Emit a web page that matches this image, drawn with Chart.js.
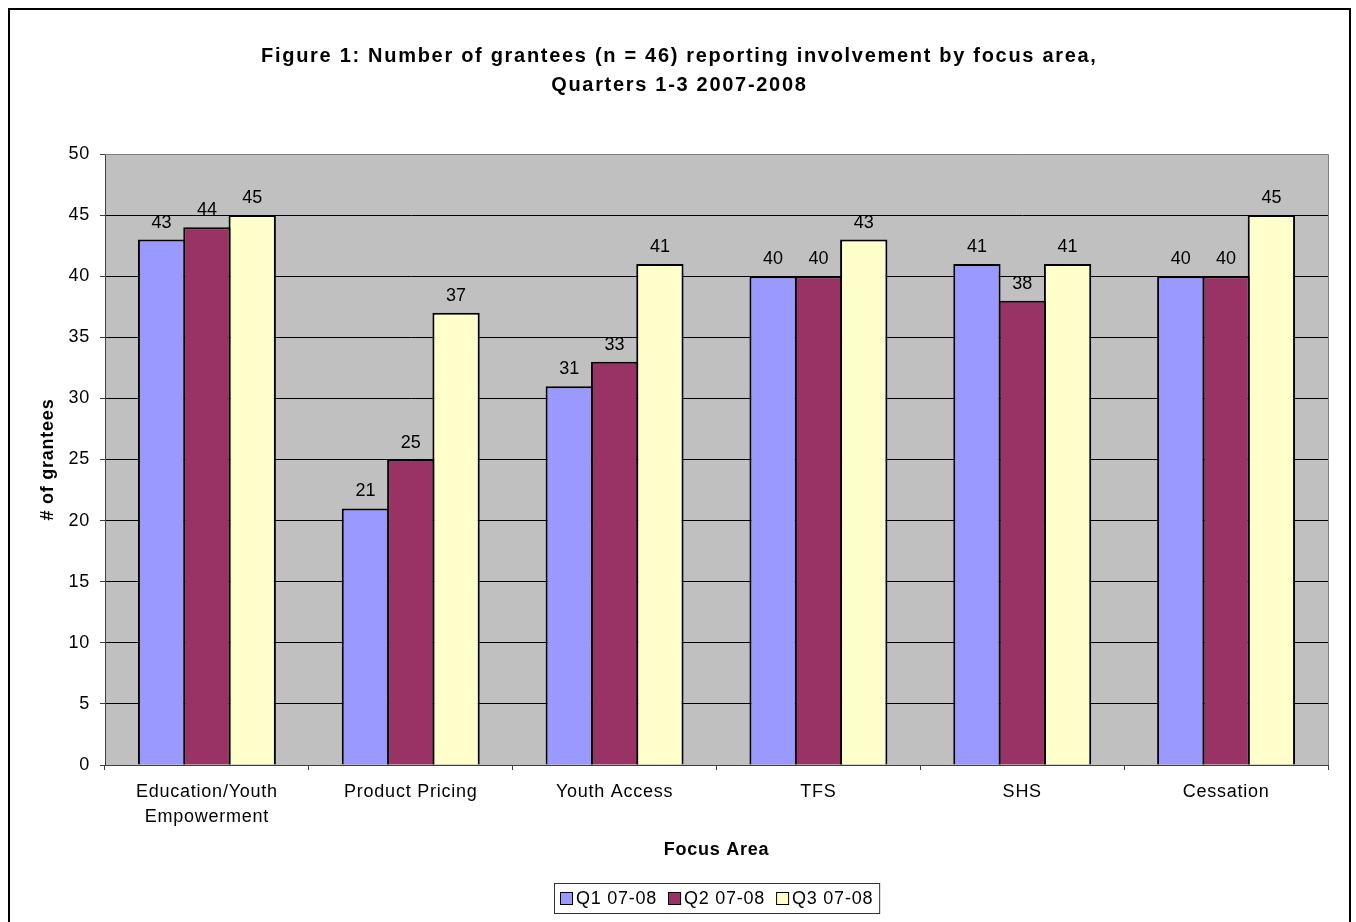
<!DOCTYPE html>
<html>
<head>
<meta charset="utf-8">
<title>Grantees by focus area</title>
<script src="https://cdn.jsdelivr.net/npm/chart.js@4/dist/chart.umd.min.js"></script>
<style>
  html, body { margin: 0; padding: 0; background: #ffffff; }
  canvas { display: block; }
</style>
</head>
<body>
<canvas id="chart" width="1356" height="922"></canvas>
<script>
// Focus areas and grantee counts per quarter
const categories = [
  ['Education/Youth', 'Empowerment'],
  'Product Pricing',
  'Youth Access',
  'TFS',
  'SHS',
  'Cessation'
];
const seriesNames = ['Q1 07-08', 'Q2 07-08', 'Q3 07-08'];
const q1Values = [43, 21, 31, 40, 41, 40];
const q2Values = [44, 25, 33, 40, 38, 40];
const q3Values = [45, 37, 41, 43, 41, 45];
const seriesColors = ['#9999FF', '#993366', '#FFFFCC'];

const titleLines = [
  'Figure 1: Number of grantees (n = 46) reporting involvement by focus area,',
  'Quarters 1-3 2007-2008'
];
const yAxisTitle = '# of grantees';
const xAxisTitle = 'Focus Area';

const FONT = "'Liberation Sans', Arial, Helvetica, sans-serif";
const TEXT_SPACING = '0.75px';

// Outer frame, grey plot background, plot border and the two-line title
const framePlugin = {
  id: 'frame',
  beforeDraw(chart) {
    const { ctx, chartArea: a } = chart;
    ctx.save();
    ctx.fillStyle = '#ffffff';
    ctx.fillRect(0, 0, chart.width, chart.height);
    ctx.fillStyle = '#C0C0C0';
    ctx.fillRect(a.left, a.top, a.right - a.left, a.bottom - a.top);
    ctx.restore();
    // slightly open letter spacing for all axis and legend text
    if ('letterSpacing' in ctx) ctx.letterSpacing = TEXT_SPACING;
  },
  afterDraw(chart) {
    const { ctx, chartArea: a } = chart;
    ctx.save();
    ctx.strokeStyle = '#808080';
    ctx.lineWidth = 1;
    ctx.beginPath();
    ctx.moveTo(a.left, a.top + 0.5);
    ctx.lineTo(a.right + 0.5, a.top + 0.5);
    ctx.lineTo(a.right + 0.5, a.bottom);
    ctx.stroke();
    ctx.strokeStyle = '#000000';
    ctx.lineWidth = 2;
    ctx.strokeRect(9, 9, 1341, 1000);

    // title
    const ls = 1.7;
    if ('letterSpacing' in ctx) ctx.letterSpacing = ls + 'px';
    ctx.font = 'bold 20px ' + FONT;
    ctx.fillStyle = '#000000';
    ctx.textAlign = 'left';
    ctx.textBaseline = 'alphabetic';
    const cx = 678.5;
    titleLines.forEach((line, i) => {
      const w = ctx.measureText(line).width - ('letterSpacing' in ctx ? ls : 0);
      ctx.fillText(line, cx - w / 2, 61.5 + i * 29);
    });
    ctx.restore();
  }
};

// Value labels above each bar
const valueLabelPlugin = {
  id: 'valueLabels',
  afterDatasetsDraw(chart) {
    const { ctx } = chart;
    ctx.save();
    if ('letterSpacing' in ctx) ctx.letterSpacing = '0px';
    ctx.font = '18px ' + FONT;
    ctx.fillStyle = '#000000';
    ctx.textAlign = 'center';
    ctx.textBaseline = 'alphabetic';
    chart.data.datasets.forEach((ds, i) => {
      const meta = chart.getDatasetMeta(i);
      meta.data.forEach((bar, j) => {
        ctx.fillText(String(ds.data[j]), bar.x, bar.y - 12);
      });
    });
    ctx.restore();
  }
};

// Boxed legend below the axis title
const boxedLegendPlugin = {
  id: 'boxedLegend',
  afterDraw(chart) {
    const { ctx, chartArea: a } = chart;
    const sq = 13, gapAfterSq = 3, gapItems = 11, padX = 6;
    const top = 883, bottom = 913;
    ctx.save();
    if ('letterSpacing' in ctx) ctx.letterSpacing = TEXT_SPACING;
    ctx.font = '18px ' + FONT;
    const items = chart.data.datasets.map(ds => ({
      label: ds.label, color: ds.backgroundColor, w: ctx.measureText(ds.label).width
    }));
    let total = padX * 2;
    items.forEach((it, k) => { total += sq + gapAfterSq + it.w + (k ? gapItems : 0); });
    const cx = (a.left + a.right) / 2;
    const left = Math.round(cx - total / 2);
    ctx.fillStyle = '#ffffff';
    ctx.fillRect(left, top, total, bottom - top);
    ctx.strokeStyle = '#333333';
    ctx.lineWidth = 1;
    ctx.strokeRect(left + 0.5, top + 0.5, total, bottom - top);
    const midY = (top + bottom) / 2 + 0.5;
    let x = left + padX;
    ctx.textBaseline = 'middle';
    ctx.textAlign = 'left';
    items.forEach((it, k) => {
      if (k) x += gapItems;
      ctx.fillStyle = it.color;
      ctx.fillRect(x, Math.round(midY - sq / 2), sq, sq);
      ctx.strokeStyle = '#000000';
      ctx.strokeRect(x + 0.5, Math.round(midY - sq / 2) + 0.5, sq - 1, sq - 1);
      x += sq + gapAfterSq;
      ctx.fillStyle = '#000000';
      ctx.fillText(it.label, x, midY + 1);
      x += it.w;
    });
    ctx.restore();
  }
};

const seriesValues = [q1Values, q2Values, q3Values];

new Chart(document.getElementById('chart'), {
  type: 'bar',
  data: {
    labels: categories,
    datasets: seriesNames.map((name, i) => ({
      label: name,
      data: seriesValues[i],
      backgroundColor: seriesColors[i],
      borderColor: '#000000',
      borderWidth: 2,
      borderSkipped: 'start',
      categoryPercentage: 0.667,
      barPercentage: 1.044
    }))
  },
  options: {
    responsive: false,
    animation: false,
    devicePixelRatio: 1,
    layout: { padding: { top: 154, left: 20, right: 28, bottom: 52 } },
    plugins: {
      legend: { display: false },
      tooltip: { enabled: false },
      title: { display: false }
    },
    scales: {
      x: {
        grid: {
          display: true,
          drawOnChartArea: false,
          drawTicks: true,
          tickLength: 5,
          color: '#404040',
          offset: true
        },
        border: { display: true, color: '#404040', width: 1 },
        ticks: {
          color: '#000000',
          font: { family: FONT, size: 18, lineHeight: 1.39 },
          padding: 9.5,
          maxRotation: 0,
          autoSkip: false
        },
        title: {
          display: true,
          text: xAxisTitle,
          color: '#000000',
          font: { family: FONT, size: 18, weight: 'bold', lineHeight: 1.2 },
          padding: { top: 0, bottom: 9.2 }
        },
        afterFit(scale) { scale.height = 105; }
      },
      y: {
        min: 0,
        max: 50,
        ticks: {
          stepSize: 5,
          color: '#000000',
          font: { family: FONT, size: 18 },
          padding: 10
        },
        grid: {
          color: (c) => (c.tick && c.tick.value === 50) ? '#808080' : '#000000',
          tickColor: '#404040',
          tickLength: 5,
          lineWidth: 1
        },
        border: { display: true, color: '#404040', width: 1 },
        title: {
          display: true,
          text: yAxisTitle,
          color: '#000000',
          font: { family: FONT, size: 18, weight: 'bold', lineHeight: 1.2 },
          padding: { top: 17.2, bottom: 0 }
        },
        afterFit(scale) { scale.width = 85; }
      }
    }
  },
  plugins: [framePlugin, valueLabelPlugin, boxedLegendPlugin]
});
</script>
</body>
</html>
